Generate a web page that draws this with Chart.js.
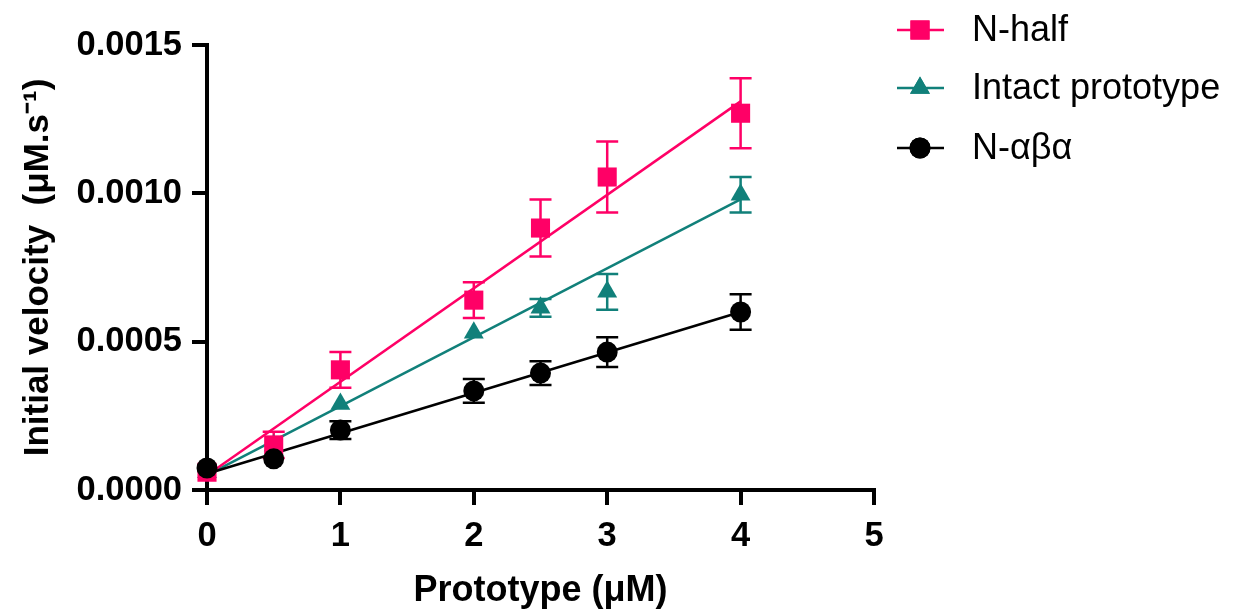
<!DOCTYPE html>
<html>
<head>
<meta charset="utf-8">
<script src="https://cdn.jsdelivr.net/npm/chart.js@4/dist/chart.umd.min.js"></script>
<style>
    html, body { margin: 0; padding: 0; background: #fff; }
    #wrap { width: 1234px; height: 615px; }
</style>
</head>
<body>
<div id="wrap"><canvas id="chart" width="1234" height="615"></canvas></div>
<script>
// concentrations (µM)
const conc = [0, 0.5, 1, 2, 2.5, 3, 4];

const nHalf = [0.00006, 0.000152, 0.000405, 0.00064, 0.000883, 0.001055, 0.00127];
const nHalfErr = [0, 0.000044, 0.00006, 0.00006, 0.000096, 0.00012, 0.000118];

const intact = [0.00006, 0.00015, 0.00029, 0.00053, 0.000614, 0.000668, 0.000995];
const intactErr = [0, 0, 0, 0, 0.00003, 0.00006, 0.00006];

const nAba = [0.000074, 0.000105, 0.000202, 0.000334, 0.000394, 0.000465, 0.0006];
const nAbaErr = [0, 0, 0.00003, 0.00004, 0.00004, 0.00005, 0.00006];

// linear fits, start and end of each line
const fitX = [0, 4];
const nHalfFit = [0.00005, 0.00131];
const intactFit = [0.00005, 0.00098];
const nAbaFit = [0.000055, 0.0006];

const xTicks = [0, 1, 2, 3, 4, 5];
const yTicks = [0, 0.0005, 0.001, 0.0015];

const PINK = "#ff0066";
const TEAL = "#11807a";
const BLACK = "#000000";
const FONT = "'Liberation Sans', Arial, sans-serif";

const toPoints = (xs, ys) => xs.map((x, i) => ({ x, y: ys[i] }));

const series = [
    { label: "N-half", data: nHalf, err: nHalfErr, fit: nHalfFit, color: PINK, style: "rect", radius: 13.5, order: 2 },
    { label: "Intact prototype", data: intact, err: intactErr, fit: intactFit, color: TEAL, style: "triangle", radius: 11.5, order: 3 },
    { label: "N-\u03b1\u03b2\u03b1", data: nAba, err: nAbaErr, fit: nAbaFit, color: BLACK, style: "circle", radius: 10.5, order: 1 },
];

const datasets = [];
series.forEach((s) => {
    datasets.push({
        label: s.label + " fit",
        data: toPoints(fitX, s.fit),
        showLine: true,
        borderColor: s.color,
        borderWidth: 2.5,
        pointRadius: 0,
        order: 10 + s.order,
        clip: false,
    });
    datasets.push({
        label: s.label,
        data: toPoints(conc, s.data),
        showLine: false,
        pointStyle: s.style,
        pointRadius: s.radius,
        pointHoverRadius: s.radius,
        backgroundColor: s.color,
        borderColor: s.color,
        borderWidth: 0,
        order: s.order,
        clip: false,
        errors: s.err,
    });
});

const errorBars = {
    id: "errorBars",
    beforeDatasetsDraw(chart) {
        const { ctx, scales } = chart;
        ctx.save();
        ctx.lineWidth = 2.5;
        chart.data.datasets.forEach((ds) => {
            if (!ds.errors) return;
            ctx.strokeStyle = ds.borderColor;
            ds.data.forEach((p, i) => {
                const e = ds.errors[i];
                if (!e) return;
                const x = scales.x.getPixelForValue(p.x);
                const top = scales.y.getPixelForValue(p.y + e);
                const bot = scales.y.getPixelForValue(p.y - e);
                ctx.beginPath();
                ctx.moveTo(x, top);
                ctx.lineTo(x, bot);
                ctx.moveTo(x - 11, top);
                ctx.lineTo(x + 11, top);
                ctx.moveTo(x - 11, bot);
                ctx.lineTo(x + 11, bot);
                ctx.stroke();
            });
        });
        ctx.restore();
    },
};

const sideLegend = {
    id: "sideLegend",
    afterDraw(chart) {
        const { ctx } = chart;
        const rows = [30, 88, 148];
        ctx.save();
        series.forEach((s, i) => {
            const y = rows[i];
            ctx.strokeStyle = s.color;
            ctx.lineWidth = 2.5;
            ctx.beginPath();
            ctx.moveTo(897, y);
            ctx.lineTo(944, y);
            ctx.stroke();
            ctx.fillStyle = s.color;
            Chart.helpers.drawPoint(ctx, { pointStyle: s.style, radius: s.radius, borderWidth: 0 }, 920, y);
            ctx.fill();
            ctx.fillStyle = "#000";
            ctx.font = "36px " + FONT;
            ctx.textBaseline = "middle";
            ctx.fillText(s.label, 972, y + 1);
        });
        ctx.restore();
    },
};

const tickFont = { family: FONT, size: 34.5, weight: "bold" };

new Chart(document.getElementById("chart"), {
    type: "scatter",
    data: { datasets },
    options: {
        responsive: false,
        animation: false,
        events: [],
        layout: { padding: { left: 17, right: 360, top: 45, bottom: 0 } },
        plugins: {
            legend: { display: false },
            tooltip: { enabled: false },
        },
        scales: {
            x: {
                type: "linear",
                min: 0,
                max: 5,
                afterBuildTicks: (axis) => { axis.ticks = xTicks.map((v) => ({ value: v })); },
                afterFit: (axis) => { axis.height = 125; },
                border: { color: BLACK, width: 4 },
                grid: { drawOnChartArea: false, color: BLACK, tickLength: 15, lineWidth: 4 },
                ticks: { color: BLACK, font: tickFont, padding: 11, maxRotation: 0 },
                title: { display: true, text: "Prototype (\u03bcM)", color: BLACK, font: { family: FONT, size: 36, weight: "bold" }, padding: { top: 0, bottom: 2 } },
            },
            y: {
                min: 0,
                max: 0.0015,
                afterBuildTicks: (axis) => { axis.ticks = yTicks.map((v) => ({ value: v })); },
                afterFit: (axis) => { axis.width = 190; },
                border: { color: BLACK, width: 4 },
                grid: { drawOnChartArea: false, color: BLACK, tickLength: 15, lineWidth: 4 },
                ticks: { color: BLACK, font: tickFont, padding: 10, callback: (v) => Number(v).toFixed(4) },
                title: { display: true, text: "Initial velocity  (\u03bcM.s\u207b\u00b9)", color: BLACK, font: { family: FONT, size: 35, weight: "bold" }, padding: { top: 0, bottom: 0 } },
            },
        },
    },
    plugins: [errorBars, sideLegend],
});
</script>
</body>
</html>
